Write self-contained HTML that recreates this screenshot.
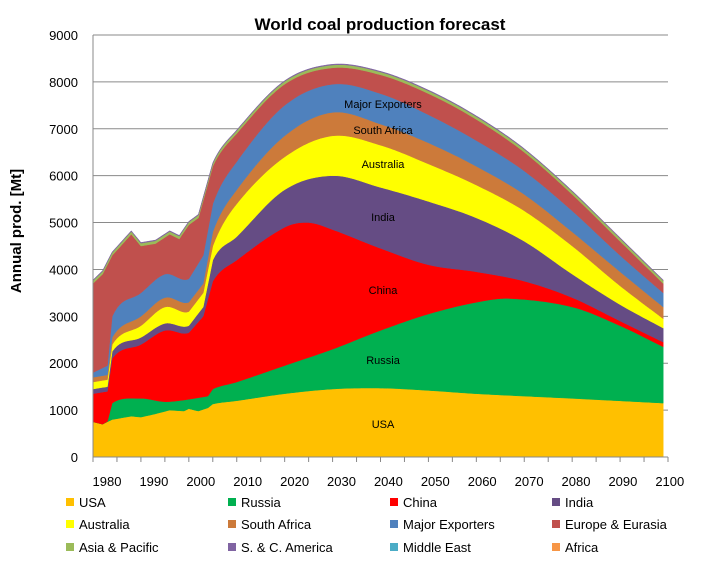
<!DOCTYPE html>
<html><head><meta charset="utf-8"><style>
body{margin:0;background:#fff;width:703px;height:568px;overflow:hidden;font-family:"Liberation Sans",sans-serif}
</style></head><body>
<svg id="s" width="703" height="568" xmlns="http://www.w3.org/2000/svg" font-family="Liberation Sans, sans-serif"></svg>
<script>
const X0=93,X1=668,Y0=457,K=0.04689;
const xs=y=>X0+(y-1980)*(X1-X0)/120, ys=v=>Y0-v*K;
const yrs=[];for(let y=1980;y<=2099.01;y+=0.5)yrs.push(y);
function ip(pts){
 const n=pts.length;
 return yrs.map(y=>{
  let i=0;while(i<n-2&&y>pts[i+1][0])i++;
  const [a,av]=pts[i],[b,bv]=pts[Math.min(i+1,n-1)];
  if(y>=b)return bv;
  const t=(y-a)/(b-a);
  if(b-a<=4)return av+(bv-av)*t;
  const p0=i>0?pts[i-1]:pts[i],p3=i+2<n?pts[i+2]:pts[i+1];
  const m1=(bv-p0[1])/(b-p0[0])*(b-a),m2=(p3[1]-av)/(p3[0]-a)*(b-a);
  const t2=t*t,t3=t2*t;
  return (2*t3-3*t2+1)*av+(t3-2*t2+t)*m1+(-2*t3+3*t2)*bv+(t3-t2)*m2;
 });}
const L=[
['#FFC000',[[1980,750],[1982,700],[1984,800],[1988,870],[1990,850],[1993,920],[1996,1000],[1999,980],[2000,1030],[2002,980],[2004,1050],[2005,1130],[2010,1200],[2020,1350],[2030,1450],[2040,1470],[2050,1420],[2060,1350],[2080,1250],[2099,1150]]],
['#00B050',[[1980,750],[1982,700],[1983,760],[1984,1150],[1990,1250],[1995,1180],[2000,1230],[2004,1300],[2005,1450],[2010,1600],[2020,1950],[2030,2300],[2040,2700],[2050,3050],[2060,3300],[2067,3380],[2080,3200],[2090,2800],[2099,2350]]],
['#FF0000',[[1980,1350],[1983,1400],[1984,2100],[1990,2400],[1995,2700],[2000,2650],[2003,3000],[2005,3750],[2010,4200],[2020,4900],[2025,5000],[2030,4850],[2040,4450],[2050,4100],[2060,3950],[2070,3750],[2080,3400],[2090,2900],[2099,2450]]],
['#654C84',[[1980,1450],[1983,1500],[1984,2250],[1990,2550],[1995,2850],[2000,2800],[2003,3200],[2005,4200],[2010,4700],[2020,5700],[2030,6000],[2040,5750],[2050,5450],[2060,5100],[2070,4600],[2080,3900],[2090,3250],[2099,2750]]],
['#FFFF00',[[1980,1600],[1983,1650],[1984,2400],[1990,2800],[1995,3200],[2000,3100],[2003,3500],[2005,4500],[2010,5400],[2020,6400],[2030,6850],[2040,6650],[2050,6250],[2060,5800],[2070,5250],[2080,4500],[2090,3650],[2099,2950]]],
['#CC7A3A',[[1980,1700],[1983,1750],[1984,2550],[1990,3000],[1995,3400],[2000,3300],[2003,3700],[2005,4800],[2010,5700],[2020,6850],[2030,7350],[2040,7100],[2050,6700],[2060,6200],[2070,5600],[2080,4800],[2090,3950],[2099,3200]]],
['#4F81BD',[[1980,1800],[1983,1950],[1984,3000],[1990,3500],[1995,3900],[2000,3800],[2003,4300],[2005,5400],[2010,6300],[2020,7500],[2030,7950],[2040,7750],[2050,7300],[2060,6750],[2070,6100],[2080,5250],[2090,4300],[2099,3500]]],
['#C0504D',[[1980,3700],[1982,3900],[1984,4300],[1988,4750],[1990,4500],[1993,4550],[1996,4750],[1998,4650],[2000,4950],[2002,5100],[2005,6200],[2010,6900],[2020,7950],[2030,8300],[2040,8150],[2050,7750],[2060,7200],[2070,6500],[2080,5600],[2090,4600],[2099,3700]]],
['#9BBB59',null],['#8064A2',null]];
let prev=yrs.map(()=>0),h='';
for(let g=0;g<=9;g++){h+=`<line x1="${X0}" x2="${X1}" y1="${ys(g*1000)}" y2="${ys(g*1000)}" stroke="#8a8a8a" stroke-width="1"/>`;
h+=`<text x="78" y="${ys(g*1000)+5}" font-size="13" text-anchor="end">${g*1000}</text>`;}
L.forEach(([c,p],i)=>{let top;
if(p)top=ip(p).map((v,j)=>Math.max(v,prev[j]));else if(i==8)top=prev.map(v=>v+60);else top=prev.map(v=>v+15);
let d='M'+yrs.map((y,j)=>xs(y).toFixed(1)+','+ys(top[j]).toFixed(1)).join('L');
for(let j=yrs.length-1;j>=0;j--)d+='L'+xs(yrs[j]).toFixed(1)+','+ys(prev[j]).toFixed(1);
h+=`<path d="${d}Z" fill="${c}" stroke="${c}" stroke-width="0.5"/>`;prev=top;});
h+=`<line x1="${X0}" x2="${X0}" y1="${ys(9000)}" y2="${Y0}" stroke="#888"/><line x1="${X0}" x2="${X1}" y1="${Y0}" y2="${Y0}" stroke="#888"/>`;
for(let i=0;i<=24;i++){const x=X0+i*(X1-X0)/24;h+=`<line x1="${x}" x2="${x}" y1="${Y0}" y2="${Y0+5}" stroke="#888"/>`;}
for(let i=0;i<=12;i++)h+=`<text x="${107+i*46.9}" y="486" font-size="13" text-anchor="middle">${1980+i*10}</text>`;
[['USA',424],['Russia',360],['China',290],['India',217],['Australia',164],['South Africa',130],['Major Exporters',104]].forEach(([t,y])=>h+=`<text x="383" y="${y+4}" font-size="11" text-anchor="middle">${t}</text>`);
h+=`<text x="380" y="30" font-size="17" font-weight="bold" text-anchor="middle">World coal production forecast</text>`;
h+=`<text transform="translate(21,231) rotate(-90)" font-size="15" font-weight="bold" text-anchor="middle">Annual prod. [Mt]</text>`;
const lg=[['USA','#FFC000'],['Russia','#00B050'],['China','#FF0000'],['India','#654C84'],['Australia','#FFFF00'],['South Africa','#CC7A3A'],['Major Exporters','#4F81BD'],['Europe & Eurasia','#C0504D'],['Asia & Pacific','#9BBB59'],['S. & C. America','#8064A2'],['Middle East','#4BACC6'],['Africa','#F79646']];
lg.forEach(([t,c],i)=>{const x=[66,228,390,552][i%4],y=[502,524,547][Math.floor(i/4)];
h+=`<rect x="${x}" y="${y-4}" width="8" height="8" fill="${c}"/><text x="${x+13}" y="${y+5}" font-size="13">${t.replace('&','&amp;')}</text>`;});
document.getElementById('s').innerHTML=h;
</script>
</body></html>
